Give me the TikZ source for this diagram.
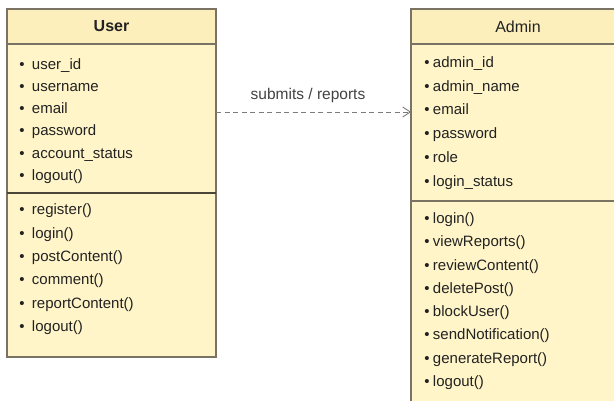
\documentclass[tikz,border=0pt]{standalone}
\usepackage{fontspec}
\setmainfont{Liberation Sans}
\usetikzlibrary{arrows.meta}
\definecolor{boxfill}{HTML}{FFF5C9}
\definecolor{headfill}{HTML}{FCEFBC}
\definecolor{boxline}{HTML}{7A7262}
\definecolor{splitline}{HTML}{4C4638}
\definecolor{inkgray}{HTML}{222222}
\definecolor{linkgray}{HTML}{7C7C7C}
\tikzset{
  every node/.style={inner sep=0pt, outer sep=0pt},
  section/.style={draw=boxline, line width=1.1pt, fill=boxfill, anchor=north west},
  headsec/.style={section, fill=headfill},
  title/.style={font=\fontsize{16}{18}\selectfont, text=inkgray},
  item/.style={anchor=west, font=\fontsize{15}{18}\selectfont, text=inkgray,
               text height=11pt, text depth=3.2pt},
  link/.style={draw=linkgray, line width=0.9pt, dash pattern=on 5pt off 3.5pt,
               -{Straight Barb[length=7.5pt,width=10pt,line width=0.9pt]}},
  linklabel/.style={font=\fontsize{15.5}{18}\selectfont, text=inkgray!85},
}
\newcommand{\useritem}[1]{\makebox[12.5pt][l]{\textbullet}#1}
\newcommand{\adminitem}[1]{\makebox[8.6pt][l]{\textbullet}#1}
\begin{document}
\begin{tikzpicture}[x=1pt,y=-1pt]
\useasboundingbox (0,0) rectangle (614,401);
\fill[white] (0,0) rectangle (614,401);
\clip (0,0) rectangle (614,401);

% ---- User class ----
\node[headsec, minimum width=209pt, minimum height=35pt] (userhead) at (7,9) {};
\node[section, minimum width=209pt, minimum height=149pt] (userattr) at (7,44) {};
\node[section, minimum width=209pt, minimum height=164pt] (userops) at (7,193) {};
\draw[splitline, line width=1.5pt] (userops.north west) -- (userops.north east);
\node[title, font=\fontsize{16}{18}\selectfont\bfseries] (usertitle) at (userhead.center) {User};

\foreach \t [count=\i] in {user\_id, username, email, password, account\_status, logout()}
  \node[item] (ua\i) at (19.5, {65.5+22.2*(\i-1)}) {\useritem{\t}};
\foreach \t [count=\i] in {register(), login(), postContent(), comment(), reportContent(), logout()}
  \node[item] (uo\i) at (19.5, {210.8+23.4*(\i-1)}) {\useritem{\t}};

% ---- Admin class ----
\node[headsec, minimum width=214pt, minimum height=35pt] (adminhead) at (411,9) {};
\node[section, minimum width=214pt, minimum height=157pt] (adminattr) at (411,44) {};
\node[section, minimum width=214pt, minimum height=229pt] (adminops) at (411,201) {};
\node[title] (admintitle) at (adminhead.center) {Admin};

\foreach \t [count=\i] in {admin\_id, admin\_name, email, password, role, login\_status}
  \node[item] (aa\i) at (424.4, {63.5+23.8*(\i-1)}) {\adminitem{\t}};
\foreach \t [count=\i] in {login(), viewReports(), reviewContent(), deletePost(), blockUser(), sendNotification(), generateReport(), logout()}
  \node[item] (ao\i) at (424.4, {219.5+23.3*(\i-1)}) {\adminitem{\t}};

% ---- dependency ----
\coordinate (linkfrom) at (userattr.east |- 0,112);
\coordinate (linkto) at (adminattr.west |- 0,112);
\draw[link] (linkfrom) -- (linkto);
\node[linklabel] (linktext) at (308,95) {submits / reports};
\end{tikzpicture}
\end{document}
